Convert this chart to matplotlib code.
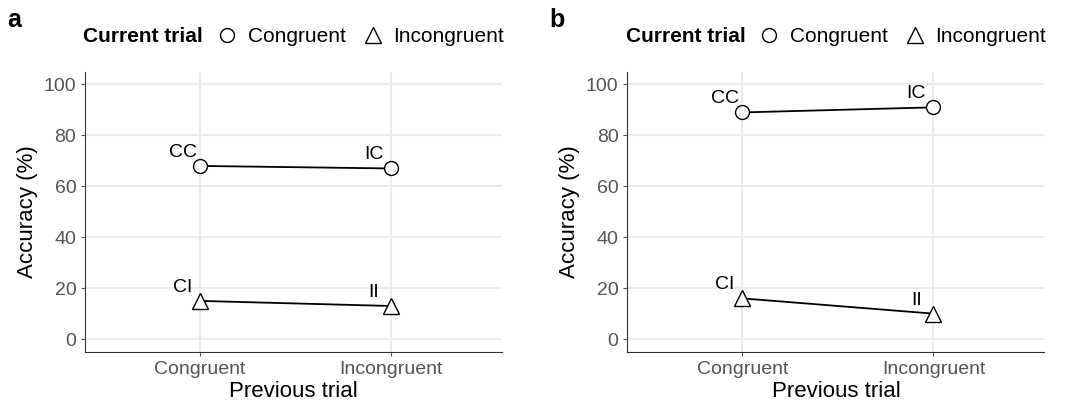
import matplotlib.pyplot as plt
from matplotlib.lines import Line2D
from matplotlib.offsetbox import HPacker

categories = ['Congruent', 'Incongruent']
acc_a_congr = [68, 67]
acc_a_incongr = [15, 13]
acc_b_congr = [89, 91]
acc_b_incongr = [16, 10]
labels_congr = ['CC', 'IC']
labels_incongr = ['CI', 'II']

plt.rcParams['font.family'] = ['Liberation Sans', 'DejaVu Sans']
fig = plt.figure(figsize=(10.8, 4.12), dpi=100)

panels = [('a', 0.079, acc_a_congr, acc_a_incongr),
          ('b', 0.581, acc_b_congr, acc_b_incongr)]

for tag, left, congr, incongr in panels:
    ax = fig.add_axes([left, 0.146, 0.386, 0.68])
    x = [1, 2]
    ax.plot(x, congr, color='black', lw=1.3, marker='o', ms=10,
            mfc='white', mec='black', mew=1.0, zorder=3)
    ax.plot(x, incongr, color='black', lw=1.3, marker='^', ms=12,
            mfc='white', mec='black', mew=1.0, zorder=3)
    for xi, yi, lab in zip(x, congr, labels_congr):
        ax.text(xi - 0.09, yi + 2, lab, fontsize=14, ha='center', va='bottom')
    for xi, yi, lab in zip(x, incongr, labels_incongr):
        ax.text(xi - 0.09, yi + 2, lab, fontsize=14, ha='center', va='bottom')
    ax.set_xlim(0.4, 2.58)
    ax.set_ylim(-5, 105)
    ax.set_xticks(x)
    ax.set_xticklabels(categories)
    ax.set_yticks([0, 20, 40, 60, 80, 100])
    ax.tick_params(labelsize=14, colors='#555555', length=3)
    ax.grid(True, color='#ebebeb', lw=1.5)
    ax.set_axisbelow(True)
    for s in ['top', 'right']:
        ax.spines[s].set_visible(False)
    for s in ['left', 'bottom']:
        ax.spines[s].set_color('#333333')
    ax.set_xlabel('Previous trial', fontsize=16, labelpad=2)
    ax.set_ylabel('Accuracy (%)', fontsize=16)
    fig.text(left - 0.072, 0.935, tag, fontsize=18, fontweight='bold')
    handles = [Line2D([], [], ls='none', marker='o', ms=10, mfc='white', mec='black'),
               Line2D([], [], ls='none', marker='^', ms=12, mfc='white', mec='black')]
    leg = ax.legend(handles, ['Congruent', 'Incongruent'], title='Current trial',
                    ncol=2, loc='lower center', bbox_to_anchor=(0.5, 1.04),
                    frameon=False, fontsize=15, title_fontproperties={'weight': 'bold', 'size': 15},
                    handletextpad=0.0, columnspacing=0.3, borderaxespad=0.3)
    box = leg._legend_box
    box._children = [HPacker(children=box.get_children(), align='center', pad=0, sep=2)]

fig.savefig('out.png', dpi=100)
